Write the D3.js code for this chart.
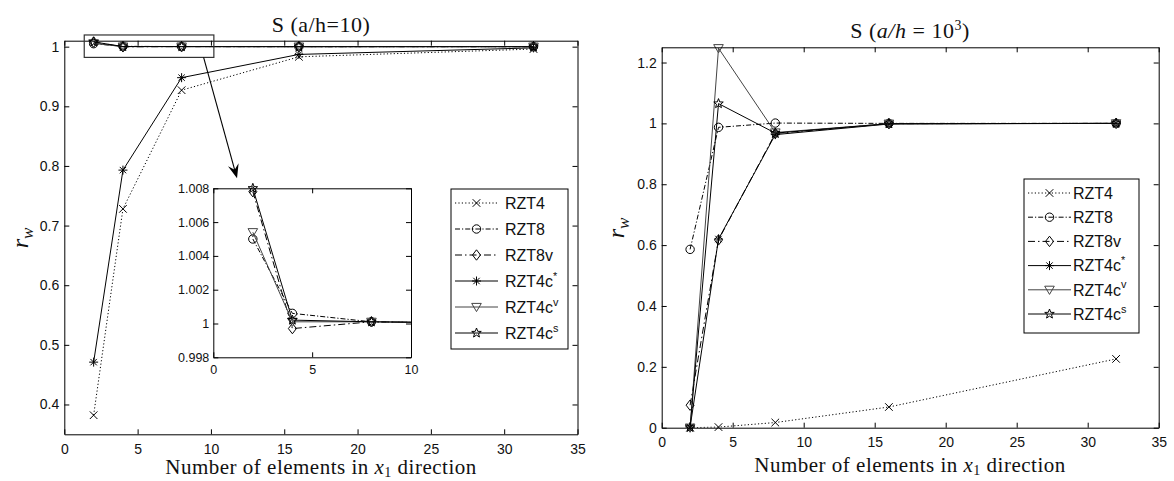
<!DOCTYPE html>
<html>
<head>
<meta charset="utf-8">
<title>r_w convergence, square plate</title>
<script src="https://cdn.jsdelivr.net/npm/d3@7"></script>
<style>
  body { margin: 0; background: #fff; }
  .serif { font-family: 'Liberation Serif', 'Times New Roman', serif; }
</style>
</head>
<body>
<div id="chart"></div>
<script>
(function (d3) {
  'use strict';

  // number of elements in x1 direction
  var elems = [2, 4, 8, 16, 32];
  var names = ['RZT4', 'RZT8', 'RZT8v', 'RZT4c', 'RZT4c', 'RZT4c'];
  var sups = ['', '', '', '*', 'v', 's'];

  // a/h = 10
  var rzt4_10   = [0.382, 0.728, 0.927, 0.983, 0.996];
  var rzt8_10   = [1.0050, 1.0006, 1.0001, 1.0000, 1.0000];
  var rzt8v_10  = [1.0078, 0.9997, 1.0001, 1.0000, 1.0000];
  var rzt4cA_10 = [0.471, 0.793, 0.948, 0.987, 0.998];
  var rzt4cV_10 = [1.0054, 1.0001, 1.0001, 1.0000, 1.0000];
  var rzt4cS_10 = [1.0080, 1.0002, 1.0001, 1.0000, 1.0000];

  // a/h = 10^3
  var rzt4_1k   = [0.000, 0.002, 0.017, 0.068, 0.226];
  var rzt8_1k   = [0.586, 0.987, 1.001, 1.000, 1.000];
  var rzt8v_1k  = [0.074, 0.617, 0.967, 0.999, 1.000];
  var rzt4cA_1k = [0.002, 0.620, 0.963, 0.998, 1.000];
  var rzt4cV_1k = [0.000, 1.247, 0.970, 0.999, 1.000];
  var rzt4cS_1k = [0.001, 1.065, 0.968, 0.999, 1.000];

  var xTicks = [0, 5, 10, 15, 20, 25, 30, 35];
  var yTicksL = [0.4, 0.5, 0.6, 0.7, 0.8, 0.9, 1];
  var yTicksR = [0, 0.2, 0.4, 0.6, 0.8, 1, 1.2];
  var insetXTicks = [0, 5, 10];
  var insetYTicks = [0.998, 1, 1.002, 1.004, 1.006, 1.008];

  var styles = [
    { dash: '1.2,2.2', marker: 'x', color: '#000' },
    { dash: '5,2,1.2,2', marker: 'o', color: '#000' },
    { dash: '7,3,1.5,3', marker: 'd', color: '#000' },
    { dash: null, marker: '*', color: '#000' },
    { dash: null, marker: 'v', color: '#444' },
    { dash: null, marker: 'p', color: '#000' }
  ];

  function star() {
    var p = [];
    for (var i = 0; i < 10; i++) {
      var r = i % 2 ? 2.1 : 5;
      var a = -Math.PI / 2 + i * Math.PI / 5;
      p.push((r * Math.cos(a)).toFixed(2) + ',' + (r * Math.sin(a)).toFixed(2));
    }
    return 'M' + p.join('L') + 'Z';
  }
  var markerPath = {
    x: 'M-3.8,-3.8L3.8,3.8M-3.8,3.8L3.8,-3.8',
    o: 'M4.2,0A4.2,4.2 0 1,1 -4.2,0A4.2,4.2 0 1,1 4.2,0',
    d: 'M0,-5.2L4,0L0,5.2L-4,0Z',
    '*': 'M-4.5,0H4.5M0,-4.5V4.5M-3.2,-3.2L3.2,3.2M-3.2,3.2L3.2,-3.2',
    v: 'M-4.8,-3.6L4.8,-3.6L0,4.6Z',
    p: star()
  };

  var tickFont = "'Liberation Sans', Arial, sans-serif";
  var fmt = function (d) { return String(+d.toFixed(3)); };

  var svg = d3.select('#chart').append('svg')
    .attr('width', 1174).attr('height', 481);

  function frame(g, x, y, xt, yt, fs, padX, padY) {
    var xr = x.range(), yr = y.range();
    var tl = 5;
    var axes = [
      g.append('g').attr('transform', 'translate(0,' + yr[0] + ')')
        .call(d3.axisBottom(x).tickValues(xt).tickSizeInner(-tl).tickSizeOuter(0).tickPadding(padX).tickFormat(fmt)),
      g.append('g').attr('transform', 'translate(0,' + yr[1] + ')')
        .call(d3.axisTop(x).tickValues(xt).tickSizeInner(-tl).tickSizeOuter(0).tickFormat('')),
      g.append('g').attr('transform', 'translate(' + xr[0] + ',0)')
        .call(d3.axisLeft(y).tickValues(yt).tickSizeInner(-tl).tickSizeOuter(0).tickPadding(padY).tickFormat(fmt)),
      g.append('g').attr('transform', 'translate(' + xr[1] + ',0)')
        .call(d3.axisRight(y).tickValues(yt).tickSizeInner(-tl).tickSizeOuter(0).tickFormat(''))
    ];
    axes.forEach(function (a) {
      a.attr('font-family', tickFont).attr('font-size', fs);
      a.selectAll('line').attr('stroke', '#000');
      a.select('.domain').attr('stroke', '#000');
      a.selectAll('text').attr('fill', '#111');
    });
  }

  function drawSeries(g, x, y, data, clipId) {
    var line = d3.line()
      .x(function (d, i) { return x(elems[i]); })
      .y(function (d) { return y(d); });
    var lo = Math.min.apply(null, y.domain()) - 1e-6, hi = Math.max.apply(null, y.domain()) + 1e-6;
    var xmax = x.domain()[1];
    data.forEach(function (vals, k) {
      var st = styles[k];
      g.append('path')
        .attr('clip-path', 'url(#' + clipId + ')')
        .attr('d', line(vals))
        .attr('fill', 'none')
        .attr('stroke', st.color)
        .attr('stroke-width', 1)
        .attr('stroke-dasharray', st.dash);
      vals.forEach(function (v, i) {
        if (v < lo || v > hi || elems[i] > xmax) return;
        g.append('path')
          .attr('d', markerPath[st.marker])
          .attr('transform', 'translate(' + x(elems[i]) + ',' + y(v) + ')')
          .attr('fill', 'none')
          .attr('stroke', st.color)
          .attr('stroke-width', 1);
      });
    });
  }

  function clip(id, x, y) {
    svg.append('clipPath').attr('id', id).append('rect')
      .attr('x', x.range()[0]).attr('y', y.range()[1])
      .attr('width', x.range()[1] - x.range()[0])
      .attr('height', y.range()[0] - y.range()[1]);
  }

  function legend(g, x0, y0, w, h, row0, step, lineW, textX, fs) {
    g.append('rect').attr('x', x0).attr('y', y0).attr('width', w).attr('height', h)
      .attr('fill', '#fff').attr('stroke', '#000').attr('stroke-width', 1);
    names.forEach(function (n, k) {
      var st = styles[k];
      var yy = row0 + k * step;
      g.append('line').attr('x1', x0 + 4).attr('x2', x0 + 4 + lineW)
        .attr('y1', yy).attr('y2', yy)
        .attr('stroke', st.color).attr('stroke-dasharray', st.dash);
      g.append('path').attr('d', markerPath[st.marker])
        .attr('transform', 'translate(' + (x0 + 4 + lineW / 2) + ',' + yy + ')')
        .attr('fill', 'none').attr('stroke', st.color);
      var t = g.append('text').attr('x', textX).attr('y', yy + fs * 0.36)
        .attr('font-family', tickFont).attr('font-size', fs).attr('fill', '#111')
        .text(n);
      if (sups[k]) {
        t.append('tspan').attr('font-size', fs * 0.68).attr('dy', -fs * 0.45).text(sups[k]);
      }
    });
  }

  function xLabel(cx, by) {
    var t = svg.append('text').attr('class', 'serif').attr('x', cx).attr('y', by)
      .attr('text-anchor', 'middle').attr('font-size', 21).attr('letter-spacing', 0.5)
      .attr('fill', '#111');
    t.append('tspan').text('Number of elements in ');
    t.append('tspan').attr('font-style', 'italic').text('x');
    t.append('tspan').attr('font-size', 14).attr('dy', 3).text('1');
    t.append('tspan').attr('dy', -3).text(' direction');
  }

  function yLabel(bx, cy) {
    var t = svg.append('text').attr('class', 'serif')
      .attr('transform', 'translate(' + bx + ',' + cy + ') rotate(-90)')
      .attr('text-anchor', 'middle').attr('font-size', 24).attr('fill', '#111');
    t.append('tspan').attr('font-style', 'italic').text('r');
    t.append('tspan').attr('font-style', 'italic').attr('font-size', 17).attr('dy', 5).text('w');
  }

  // ---------- left panel: a/h = 10 ----------
  var xL = d3.scaleLinear().domain([0, 35]).range([64.3, 577.5]);
  var yL = d3.scaleLinear().domain([0.35, 1.01]).range([434.3, 40.7]);
  var gL = svg.append('g');
  clip('clipL', xL, yL);
  gL.append('rect').attr('x', 64.3).attr('y', 40.7).attr('width', 577.5 - 64.3).attr('height', 434.3 - 40.7).attr('fill', '#fff');
  drawSeries(gL, xL, yL, [rzt4_10, rzt8_10, rzt8v_10, rzt4cA_10, rzt4cV_10, rzt4cS_10], 'clipL');
  frame(gL, xL, yL, xTicks, yTicksL, 14, 10, 5);

  svg.append('text').attr('class', 'serif').attr('x', 321).attr('y', 32)
    .attr('text-anchor', 'middle').attr('font-size', 22).attr('letter-spacing', 0.5)
    .attr('fill', '#111')
    .text('S (a/h=10)');
  xLabel(321, 474);
  yLabel(28, 238);

  // zoom box around the converged points
  var zx0 = xL(1.36), zx1 = xL(10.2), zy0 = yL(1.0196), zy1 = yL(0.982);
  gL.append('rect').attr('x', zx0).attr('y', zy0).attr('width', zx1 - zx0).attr('height', zy1 - zy0)
    .attr('fill', 'none').attr('stroke', '#333').attr('stroke-width', 1.2);

  // inset
  var xI = d3.scaleLinear().domain([0, 10]).range([213.3, 411]);
  var yI = d3.scaleLinear().domain([0.998, 1.008]).range([357.3, 188.3]);
  var gI = svg.append('g');
  clip('clipI', xI, yI);
  gI.append('rect').attr('x', 213.3).attr('y', 188.3).attr('width', 411 - 213.3).attr('height', 357.3 - 188.3).attr('fill', '#fff');
  drawSeries(gI, xI, yI, [rzt4_10, rzt8_10, rzt8v_10, rzt4cA_10, rzt4cV_10, rzt4cS_10], 'clipI');
  frame(gI, xI, yI, insetXTicks, insetYTicks, 12.5, 8, 4);

  // arrow from zoom box to inset
  var ax0 = xL(9.5), ay0 = zy1, ax1 = xI(1.2), ay1 = yI.range()[1] - 10;
  var dx = ax1 - ax0, dy = ay1 - ay0, len = Math.sqrt(dx * dx + dy * dy);
  var ux = dx / len, uy = dy / len, px = -uy, py = ux;
  svg.append('line').attr('x1', ax0).attr('y1', ay0)
    .attr('x2', ax1 - ux * 8).attr('y2', ay1 - uy * 8)
    .attr('stroke', '#000').attr('stroke-width', 1.1);
  svg.append('path')
    .attr('d', 'M' + ax1 + ',' + ay1 +
      'L' + (ax1 - ux * 14 + px * 5.5) + ',' + (ay1 - uy * 14 + py * 5.5) +
      'L' + (ax1 - ux * 9) + ',' + (ay1 - uy * 9) +
      'L' + (ax1 - ux * 14 - px * 5.5) + ',' + (ay1 - uy * 14 - py * 5.5) + 'Z')
    .attr('fill', '#000');

  legend(svg.append('g'), 451, 189, 117, 160, 203, 26, 43, 505, 16);

  // ---------- right panel: a/h = 10^3 ----------
  var xR = d3.scaleLinear().domain([0, 35]).range([661.7, 1158.7]);
  var yR = d3.scaleLinear().domain([0, 1.25]).range([427.7, 47.3]);
  var gR = svg.append('g');
  clip('clipR', xR, yR);
  drawSeries(gR, xR, yR, [rzt4_1k, rzt8_1k, rzt8v_1k, rzt4cA_1k, rzt4cV_1k, rzt4cS_1k], 'clipR');
  frame(gR, xR, yR, xTicks, yTicksR, 14, 9, 5);

  var tR = svg.append('text').attr('class', 'serif').attr('x', 910).attr('y', 38)
    .attr('text-anchor', 'middle').attr('font-size', 22).attr('letter-spacing', 0.5)
    .attr('fill', '#111');
  tR.append('tspan').text('S (');
  tR.append('tspan').attr('font-style', 'italic').text('a/h');
  tR.append('tspan').text(' = 10');
  tR.append('tspan').attr('font-size', 14).attr('dy', -8).text('3');
  tR.append('tspan').attr('dy', 8).text(')');
  xLabel(910, 472);
  yLabel(624, 228);

  legend(svg.append('g'), 1024, 179, 115, 154, 193, 24.2, 43, 1073, 16);

})(window.d3);
</script>
</body>
</html>
